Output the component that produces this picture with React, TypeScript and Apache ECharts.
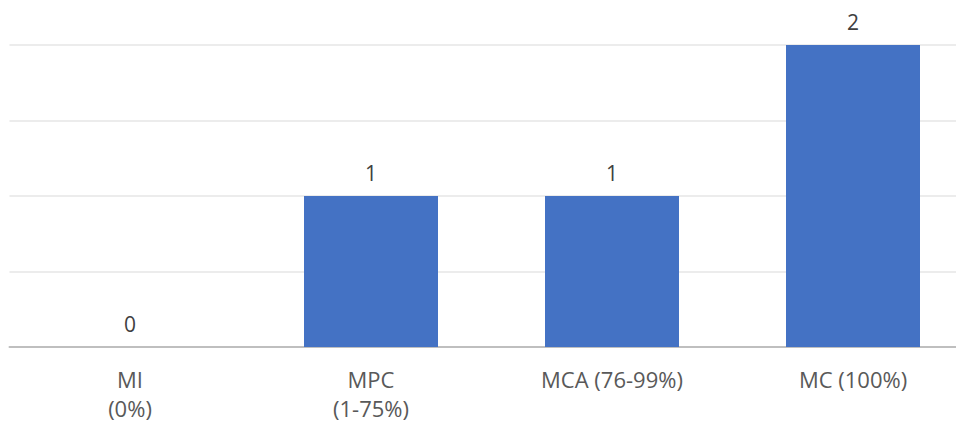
import React, { useEffect, useRef } from "react";
import * as echarts from "echarts";

const categories = ["MI\n(0%)", "MPC\n(1-75%)", "MCA (76-99%)", "MC (100%)"];
const values = [0, 1, 1, 2];

export default function App() {
  const ref = useRef<HTMLDivElement>(null);
  useEffect(() => {
    document.body.style.margin = "0";
    const chart = echarts.init(ref.current!, null, { renderer: "svg" });
    chart.setOption({
      animation: false,
      backgroundColor: "#ffffff",
      grid: { left: 9.5, top: 45, right: 0.5, bottom: 73, containLabel: false },
      xAxis: {
        type: "category",
        data: categories,
        axisLine: { show: true, lineStyle: { color: "#bfbfbf", width: 2 } },
        axisTick: { show: false },
        axisLabel: {
          color: "#595959",
          fontFamily: "Open Sans",
          fontSize: 22,
          lineHeight: 29,
          margin: 17,
          interval: 0,
        },
      },
      yAxis: {
        type: "value",
        min: 0,
        max: 2,
        interval: 0.5,
        axisLabel: { show: false },
        axisLine: { show: false },
        axisTick: { show: false },
        splitLine: { lineStyle: { color: "#ececec", width: 2 } },
      },
      series: [
        {
          type: "bar",
          data: values,
          barWidth: 134,
          itemStyle: { color: "#4472c4" },
          label: {
            show: true,
            position: "top",
            distance: 13,
            color: "#404040",
            fontFamily: "Open Sans",
            fontSize: 21,
          },
        },
      ],
    });
    return () => chart.dispose();
  }, []);
  return (
    <div
      style={{
        position: "absolute",
        left: 0,
        top: 0,
        width: 956,
        height: 422,
        overflow: "hidden",
        background: "#ffffff",
      }}
    >
      <div ref={ref} style={{ width: 974, height: 422 }} />
    </div>
  );
}
